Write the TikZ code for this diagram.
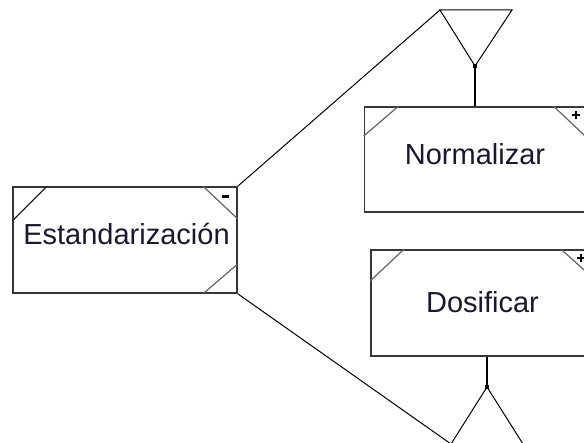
\documentclass[tikz,border=0pt]{standalone}
\usepackage{fontspec}
\setmainfont{Liberation Sans}
\usetikzlibrary{calc}
\definecolor{txtcol}{RGB}{25,25,45}
\definecolor{boxcol}{RGB}{55,55,55}
\definecolor{diagcol}{RGB}{100,100,100}
\begin{document}
\begin{tikzpicture}[x=1pt,y=-1pt,
  actbox/.style={draw=boxcol,line width=1.8pt,fill=white,rectangle,inner sep=0pt},
  corner/.style={draw=diagcol,line width=1.2pt},
  label/.style={text=txtcol,font=\fontsize{29}{34}\selectfont,anchor=base,inner sep=0pt},
  signmark/.style={fill=black,draw=none,inner sep=0pt,rectangle},
  link/.style={draw=black,line width=1pt},
  junction/.style={fill=black,draw=none,minimum size=4pt,inner sep=0pt,rectangle}]
\useasboundingbox (0,0) rectangle (584,443);

% activity boxes
\node[actbox,minimum width=224pt,minimum height=106pt] (est) at (125,240) {};
\node[actbox,minimum width=223pt,minimum height=105pt] (nor) at (476,159.5) {};
\node[actbox,minimum width=228pt,minimum height=106pt] (dos) at (485,303) {};

% corner marks
\draw[corner,draw=black!85] ($(est.north west)+(35,0)$) -- ($(est.north west)+(0,35)$);
\draw[corner] ($(est.north east)+(-35,0)$) -- ($(est.north east)+(0,33)$);
\draw[corner] ($(est.south east)+(0,-30)$) -- ($(est.south east)+(-35,0)$);
\draw[corner] ($(nor.north west)+(35,0)$) -- ($(nor.north west)+(0,30)$);
\draw[corner] ($(nor.north east)+(-35,0)$) -- ($(nor.north east)+(0,33)$);
\draw[corner] ($(dos.north west)+(34,0)$) -- ($(dos.north west)+(0,32)$);
\draw[corner] ($(dos.north east)+(-39,0)$) -- ($(dos.north east)+(0,35)$);

% labels
\node[label] (estlbl) at (126.5,245) {Estandarización};
\node[label] (norlbl) at (475,165) {Normalizar};
\node[label] (doslbl) at (482.5,313) {Dosificar};

% expansion signs: minus on the decomposed box, plus on the others
\node[signmark,minimum width=7pt,minimum height=3pt] (estsign) at (225,197) {};
\node[signmark,minimum width=8pt,minimum height=2.2pt] (norsignh) at (576,115) {};
\node[signmark,minimum width=2.2pt,minimum height=8pt] (norsignv) at (576,115) {};
\node[signmark,minimum width=8pt,minimum height=2.2pt] (dossignh) at (581,258) {};
\node[signmark,minimum width=2.2pt,minimum height=8pt] (dossignv) at (581,258) {};

% branching triangles
\coordinate (tl) at (440,10);
\coordinate (tr) at (512,10);
\coordinate (ta) at (475,66);
\coordinate (ba) at (487,387);
\coordinate (bl) at (451,444);
\coordinate (br) at (523,444);
\draw[link] (tl) -- (tr) -- (ta) -- cycle;
\draw[link] (ba) -- (bl) -- (br) -- cycle;
\node[junction] (tj) at (ta) {};
\node[junction] (bj) at (ba) {};

% connectors
\draw[link] (est.north east) -- (tl);
\draw[link] (est.south east) -- (bl);
\draw[link,line width=1.3pt] (tj.center) -- (nor.north -| tj.center);
\draw[link,line width=1.3pt] (dos.south -| bj.center) -- (bj.center);
\end{tikzpicture}
\end{document}
